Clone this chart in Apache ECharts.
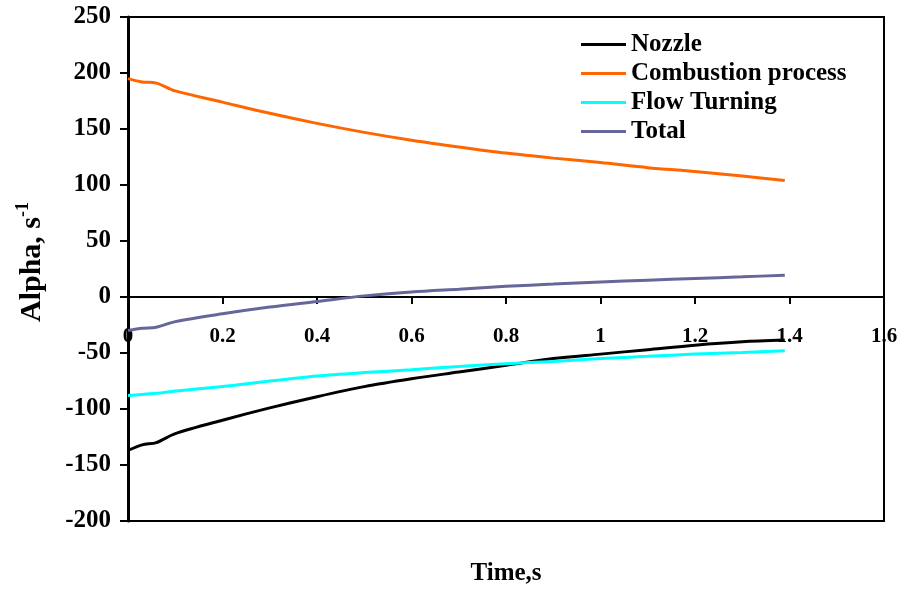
<!DOCTYPE html>
<html><head><meta charset="utf-8">
<script src="https://cdn.jsdelivr.net/npm/echarts@6/dist/echarts.min.js"></script>
<style>html,body{margin:0;padding:0;background:#fff}#c{width:901px;height:590px}</style>
</head><body><div id="c"></div>
<script>
var time = [0, 0.03, 0.06, 0.1, 0.2, 0.3, 0.4, 0.5, 0.6, 0.7, 0.8, 0.9, 1.0, 1.1, 1.2, 1.3, 1.39];
var nozzle = [-137, -132, -130, -122, -110, -99, -89, -80, -73, -67, -61, -55, -51, -47, -43, -40, -38.5];
var combustion = [195, 192, 191, 184, 174, 164, 155, 147, 140, 134, 128.5, 124, 120, 115.5, 112, 108, 104];
var flowTurning = [-88, -87, -86, -84, -80, -75, -70.5, -67.5, -65, -62, -59.5, -57.5, -55, -53, -51, -49.5, -48];
var total = [-30, -28, -27, -22, -15, -9, -4, 1, 4.5, 7, 9.5, 11.5, 13.5, 15, 16.5, 18, 19.5];
var seriesNames = ['Nozzle', 'Combustion process', 'Flow Turning', 'Total'];
var colors = ['#000000', '#FF6600', '#00FFFF', '#666699'];
var xTicks = {min: 0, max: 1.6, interval: 0.2};
var yTicks = {min: -200, max: 250, interval: 50};

function pairs(v){ return time.map(function(t,i){ return [t, v[i]]; }); }
var values = [nozzle, combustion, flowTurning, total];
var font = '"Liberation Serif","Times New Roman",serif';

var chart = echarts.init(document.getElementById('c'));
chart.setOption({
  animation: false,
  backgroundColor: '#fff',
  graphic: [{type: 'text', x: 506, y: 574, style: {text: 'Time,s', fill: '#000', font: 'bold 25px ' + font, textAlign: 'center', textVerticalAlign: 'middle'}}],
  grid: {left: 128, right: 17, top: 17, bottom: 69, show: true, borderColor: '#000', borderWidth: 2, outerBoundsMode: 'none', containLabel: false},
  legend: {
    orient: 'vertical', left: 581, top: 32, padding: 0, icon: 'rect', itemWidth: 45, itemHeight: 3, itemGap: 4,
    textStyle: {fontFamily: font, fontWeight: 'bold', fontSize: 25, color: '#000', lineHeight: 24},
    data: seriesNames
  },
  xAxis: {
    type: 'value', min: xTicks.min, max: xTicks.max, interval: xTicks.interval,
    axisLine: {onZero: true, lineStyle: {color: '#000', width: 2}},
    axisTick: {inside: false, length: 7, lineStyle: {color: '#000', width: 2}},
    axisLabel: {fontFamily: font, fontWeight: 'bold', fontSize: 21, color: '#000', margin: -195,
      formatter: function(v){ return String(Math.round(v*10)/10); }},
    splitLine: {show: false}
  },
  yAxis: {
    type: 'value', min: yTicks.min, max: yTicks.max, interval: yTicks.interval,
    name: '{a|Alpha, s}{s|-1}', nameLocation: 'middle', nameGap: 78,
    nameTextStyle: {padding: [0, 0, 0, 14], rich: {
      a: {fontFamily: font, fontWeight: 'bold', fontSize: 30, color: '#000'},
      s: {fontFamily: font, fontWeight: 'bold', fontSize: 18, color: '#000', verticalAlign: 'top', padding: [0,0,18,0]}
    }},
    axisLine: {show: true, onZero: false, lineStyle: {color: '#000', width: 3}},
    axisTick: {inside: false, length: 8, lineStyle: {color: '#000', width: 2}},
    axisLabel: {fontFamily: font, fontWeight: 'bold', fontSize: 25, color: '#000', margin: 17},
    splitLine: {show: false}
  },
  series: seriesNames.map(function(n, i){
    return {name: n, type: 'line', data: pairs(values[i]), symbol: 'none', smooth: 0.3,
      lineStyle: {color: colors[i], width: 3}, itemStyle: {color: colors[i]}, z: 3};
  })
});
</script></body></html>
